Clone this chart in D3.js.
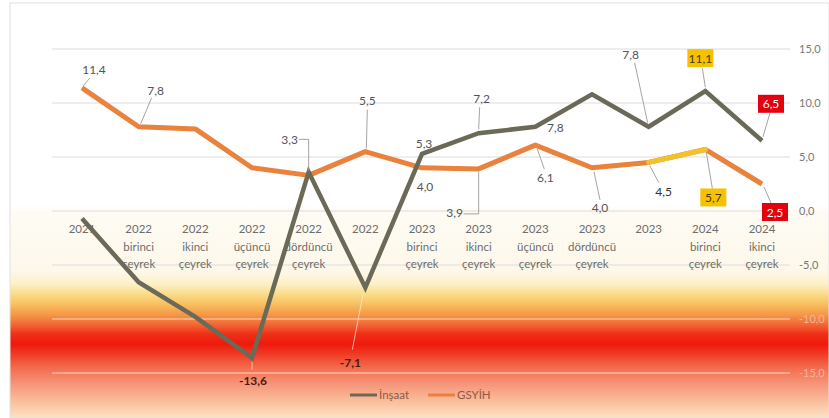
<!DOCTYPE html>
<html><head><meta charset="utf-8">
<script src="https://cdn.jsdelivr.net/npm/d3@7"></script>
<style>html,body{margin:0;padding:0;background:#fff;}svg{display:block;font-family:Lato,"Open Sans",sans-serif;}</style>
</head><body>
<svg id="c" width="829" height="418"></svg>
<script>
// ---- data ----
const categories = ["2021","2022\nbirinci\nçeyrek","2022\nikinci\nçeyrek","2022\nüçüncü\nçeyrek","2022\ndördüncü\nçeyrek","2022","2023\nbirinci\nçeyrek","2023\nikinci\nçeyrek","2023\nüçüncü\nçeyrek","2023\ndördüncü\nçeyrek","2023","2024\nbirinci\nçeyrek","2024\nikinci\nçeyrek"];
const insaat = [-0.7, -6.6, -9.8, -13.6, 3.6, -7.1, 5.3, 7.2, 7.8, 10.8, 7.8, 11.1, 6.5];
const gsyih  = [11.4, 7.8, 7.6, 4.0, 3.3, 5.5, 4.0, 3.9, 6.1, 4.0, 4.5, 5.7, 2.5];
const yTicks = [15, 10, 5, 0, -5, -10, -15];
const seriesNames = ["İnşaat", "GSYİH"];

// ---- layout ----
const svg = d3.select("#c");
const W = 829, H = 418;
const x = d3.scalePoint().domain(categories).range([82, 762]);
const y = d3.scaleLinear().domain([-15, 15]).range([373, 49]);
const fmt = v => d3.format(".1f")(v).replace(".", ",").replace("\u2212", "-");

// background gradient
const defs = svg.append("defs");
const grad = defs.append("linearGradient").attr("id","bg")
  .attr("gradientUnits","userSpaceOnUse").attr("x1",0).attr("y1",0).attr("x2",0).attr("y2",H);
[[0,"#ffffff"],[205,"#ffffff"],[212,"#fdfbf4"],[270,"#fdf8ea"],[284,"#fcf0c8"],[294,"#fadc88"],
 [304,"#f8c060"],[314,"#f59a48"],[324,"#f26a38"],[334,"#ef3018"],[344,"#ee1a0c"],[354,"#f03a24"],
 [367,"#f36a4c"],[384,"#f6957a"],[400,"#f9bb98"],[418,"#fde2c4"]]
 .forEach(([p,c]) => grad.append("stop").attr("offset", p/H).attr("stop-color", c));

svg.append("rect").attr("x",10).attr("y",3).attr("width",W-10).attr("height",H-3)
  .attr("fill","url(#bg)").attr("stroke","#e2e2e2").attr("stroke-width",1);

// gridlines
svg.append("g").selectAll("line").data(yTicks).join("line")
  .attr("x1",52).attr("x2",790).attr("y1",d=>y(d)).attr("y2",d=>y(d))
  .attr("stroke", d => d <= -10 ? "rgba(255,232,212,0.85)" : "#dcdcdc").attr("stroke-width",1);

// right axis labels
svg.append("g").selectAll("text").data(yTicks).join("text")
  .attr("x",799).attr("y",d=>y(d)+4).attr("font-size",11)
  .attr("fill", d => d <= -10 ? "#f4b49a" : "#777")
  .text(d => fmt(d));

// category labels
const cat = svg.append("g").attr("font-size",11.5).attr("fill","#6d6d6d").attr("text-anchor","middle");
categories.forEach((c,i) => {
  const lines = c.split("\n");
  const t = cat.append("text").attr("x", x(c)).attr("y", 233);
  lines.forEach((l,j) => t.append("tspan").attr("x", x(c)).attr("dy", j===0?0:17.5).text(l));
});

// lines
const line = d3.line().x((d,i)=>x(categories[i])).y(d=>y(d));
svg.append("path").datum(gsyih).attr("d",line).attr("fill","none")
  .attr("stroke","#e8823c").attr("stroke-width",5).attr("stroke-linejoin","round");
// highlighted segment 2023 -> 2024 Q1
const seg = d3.line().x(d=>x(categories[d])).y(d=>y(gsyih[d]));
svg.append("path").datum([10,11]).attr("d",seg).attr("fill","none")
  .attr("stroke","#f2c12e").attr("stroke-width",5).attr("stroke-linecap","round");
svg.append("path").datum(insaat).attr("d",line).attr("fill","none")
  .attr("stroke","#6b6a58").attr("stroke-width",4.5).attr("stroke-linejoin","miter");

// data labels: [series, index, label dx, label dy, leader (relative points), style]
const labelCfg = [
  ["g",0, 12,-18, [[8,-10],[1,-2]], "n"],
  ["g",1, 17,-36, [[13,-29],[2,-3]], "n"],
  ["g",4, -19,-36, [[-10,-36],[0,-36],[0,-4]], "n"],
  ["g",5, 2,-51, [[2,-42],[1,-3]], "n"],
  ["g",6, 3,19, null, "n"],
  ["g",7, -24,44, [[-15,45],[0,45],[0,3]], "n"],
  ["g",8, 10,32, [[2,4],[9,24]], "n"],
  ["g",9, 8,40, [[2,4],[8,32]], "n"],
  ["g",10, 15,29, [[1,3],[10,20]], "d"],
  ["g",11, 8,48, [[1,3],[7,39]], "y"],
  ["g",12, 13,28, [[2,3],[9,19]], "r"],
  ["i",3, 1,23, [[0,4],[0,12]], "b"],
  ["i",5, -15,75, [[-2,5],[-13,62]], "b"],
  ["i",6, 2,-10, null, "n"],
  ["i",7, 3,-35, [[1,-26],[0,-4]], "n"],
  ["i",8, 20,1, null, "n"],
  ["i",10, -18,-72, [[-14,-64],[-1,-4]], "n"],
  ["i",11, -5,-33, [[-3,-23],[0,-4]], "y"],
  ["i",12, 9,-37, [[8,-28],[1,-4]], "r"]
];
const lab = svg.append("g").attr("font-size",12).attr("text-anchor","middle");
labelCfg.forEach(([s,i,dx,dy,lead,st]) => {
  const v = s==="g" ? gsyih[i] : insaat[i];
  const px = x(categories[i]), py = y(v);
  if (lead) {
    lab.append("path").attr("d", d3.line()(lead.map(p=>[px+p[0], py+p[1]])))
      .attr("fill","none").attr("stroke", st==="b" ? "rgba(255,230,210,0.8)" : "#9a9a9a").attr("stroke-width",0.9);
  }
  const cx = px+dx, cy = py+dy;
  if (st==="y" || st==="r") {
    lab.append("rect").attr("x",cx-13).attr("y",cy-9).attr("width",26).attr("height",18)
      .attr("fill", st==="y" ? "#f6c100" : "#e3000f");
  }
  lab.append("text").attr("x",cx).attr("y",cy+4.5)
    .attr("fill", st==="y" ? "#4a3a00" : st==="r" ? "#fff" : st==="b" ? "#4a1a10" : st==="d" ? "#333" : "#555")
    .attr("font-weight", st==="b" ? 700 : 400)
    .text(fmt(v));
});

// legend
const lg = svg.append("g").attr("font-size",11.5).attr("fill","#8c5a48");
lg.append("line").attr("x1",350).attr("x2",377).attr("y1",395).attr("y2",395).attr("stroke","#6b6a58").attr("stroke-width",3);
lg.append("text").attr("x",379).attr("y",399).text(seriesNames[0]);
lg.append("line").attr("x1",428).attr("x2",455).attr("y1",395).attr("y2",395).attr("stroke","#e8823c").attr("stroke-width",3);
lg.append("text").attr("x",457).attr("y",399).text(seriesNames[1]);
</script>
</body></html>
